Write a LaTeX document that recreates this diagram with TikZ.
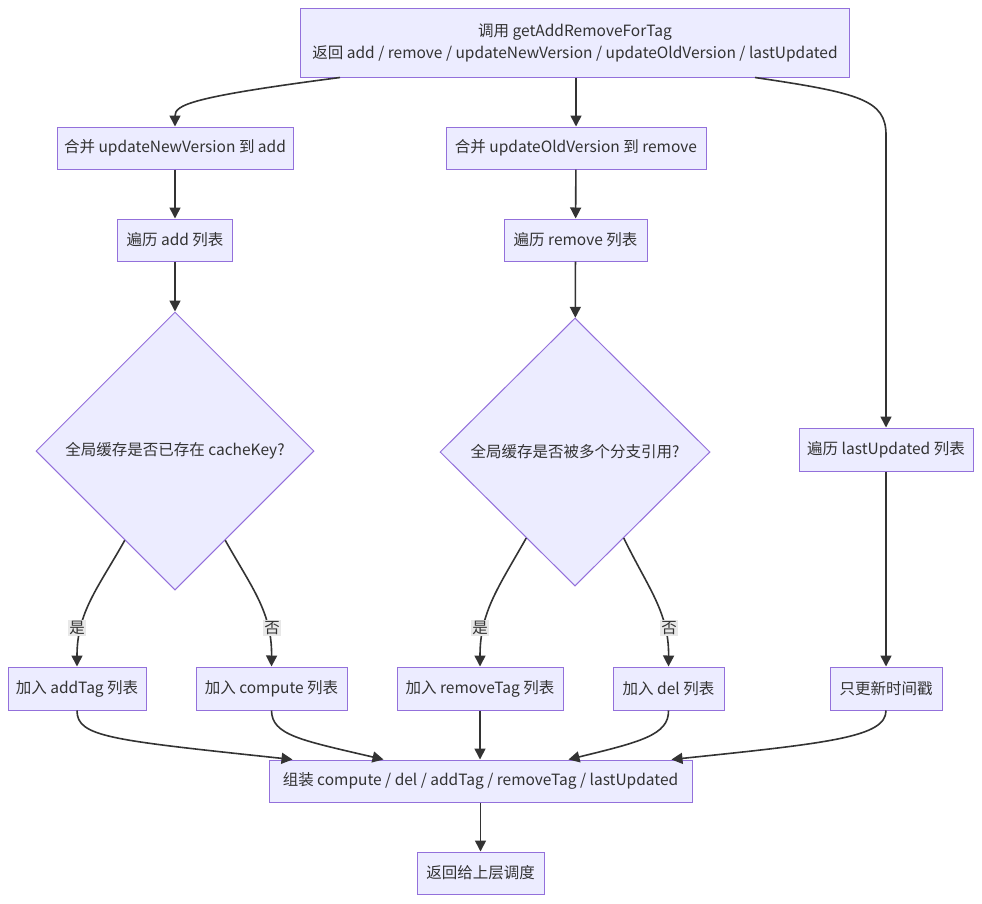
\documentclass[tikz,border=0pt]{standalone}
\usepackage{fontspec}
\setmainfont{Noto Sans CJK SC}
\usetikzlibrary{shapes.geometric,arrows.meta,calc}
\definecolor{nfill}{HTML}{ECECFF}
\definecolor{nstroke}{HTML}{9370DB}
\definecolor{ntext}{HTML}{333333}
\definecolor{lblbg}{HTML}{E8E8E8}
\begin{document}
\begin{tikzpicture}[x=1pt,y=-1pt,
  txt/.style={font=\fontsize{15.5}{22}\selectfont, text=ntext},
  box/.style={txt, draw=nstroke, fill=nfill, line width=1pt, minimum height=42pt, inner xsep=6pt},
  dia/.style={txt, diamond, draw=nstroke, fill=nfill, line width=1pt, inner sep=0pt},
  conn/.style={draw=ntext, line width=1.6pt, -{Triangle[length=11pt,width=11pt]}},
  lbl/.style={txt, fill=lblbg, inner sep=1pt}
]
\useasboundingbox[fill=white] (0,0) rectangle (982,903);

\node[box, minimum width=549pt, minimum height=69pt, align=center] (top) at (575,42.5)
  {调用 getAddRemoveForTag\\返回 add / remove / updateNewVersion / updateOldVersion / lastUpdated};
\node[box, minimum width=236pt] (m1) at (175,148) {合并 updateNewVersion 到 add};
\node[box, minimum width=260pt] (m2) at (576,148) {合并 updateOldVersion 到 remove};
\node[box, minimum width=115pt] (a1) at (175,240) {遍历 add 列表};
\node[box, minimum width=143pt] (a2) at (575.5,240) {遍历 remove 列表};
\node[dia, minimum width=278pt, minimum height=278pt] (d1) at (175,451) {全局缓存是否已存在 cacheKey?};
\node[dia, minimum width=270pt, minimum height=268pt] (d2) at (575,452) {全局缓存是否被多个分支引用?};
\node[box, minimum width=174pt, minimum height=43pt] (r1) at (886,449.5) {遍历 lastUpdated 列表};
\node[box, minimum width=138pt, minimum height=43pt] (b1) at (77,688.5) {加入 addTag 列表};
\node[box, minimum width=151pt, minimum height=43pt] (b2) at (271.5,688.5) {加入 compute 列表};
\node[box, minimum width=166pt, minimum height=43pt] (b3) at (480,688.5) {加入 removeTag 列表};
\node[box, minimum width=111pt, minimum height=43pt] (b4) at (668.5,688.5) {加入 del 列表};
\node[box, minimum width=112pt, minimum height=43pt] (b5) at (886,688.5) {只更新时间戳};
\node[box, minimum width=423pt] (asm) at (480.5,781) {组装 compute / del / addTag / removeTag / lastUpdated};
\node[box, minimum width=127pt] (ret) at (480.5,873) {返回给上层调度};

% top fan-out
\draw[conn] ([xshift=-235pt]top.south) .. controls (190,97) and (175,105) .. (m1.north);
\draw[conn] (top.south -| m2.north) -- (m2.north);
\draw[conn] ([xshift=180pt]top.south) .. controls (860,93) and (886,100) .. (886,135) -- (r1.north);

\draw[conn] (m1) -- (a1);
\draw[conn] (m2) -- (a2);
\draw[conn] (a1) -- (d1);
\draw[conn] (a2) -- (d2);
\draw[conn] (r1) -- (b5);

% decisions
\draw[conn] ($(d1.west)!0.64!(d1.south)$) .. controls (98,588) and (77,612) .. (b1.north);
\draw[conn] ($(d1.east)!0.64!(d1.south)$) .. controls (252,588) and (272,612) .. (b2.north);
\draw[conn] ($(d2.west)!0.64!(d2.south)$) .. controls (498,588) and (480,612) .. (b3.north);
\draw[conn] ($(d2.east)!0.64!(d2.south)$) .. controls (648,588) and (669,612) .. (b4.north);
\node[lbl] (l1) at (77,628) {是};
\node[lbl] (l2) at (272,628) {否};
\node[lbl] (l3) at (480,628) {是};
\node[lbl] (l4) at (669,628) {否};

% merge
\draw[conn] (b1.south) .. controls (77,737) and (110,740) .. ([xshift=-188pt]asm.north);
\draw[conn] (b2.south) .. controls (272,735) and (300,740) .. ([xshift=-97pt]asm.north);
\draw[conn] (b3.south) -- (b3.south |- asm.north);
\draw[conn] (b4.south) .. controls (669,735) and (640,742) .. ([xshift=88pt]asm.north);
\draw[conn] (b5.south) .. controls (886,737) and (830,743) .. ([xshift=191pt]asm.north);
\draw[conn] (asm) -- (ret);
\end{tikzpicture}
\end{document}
